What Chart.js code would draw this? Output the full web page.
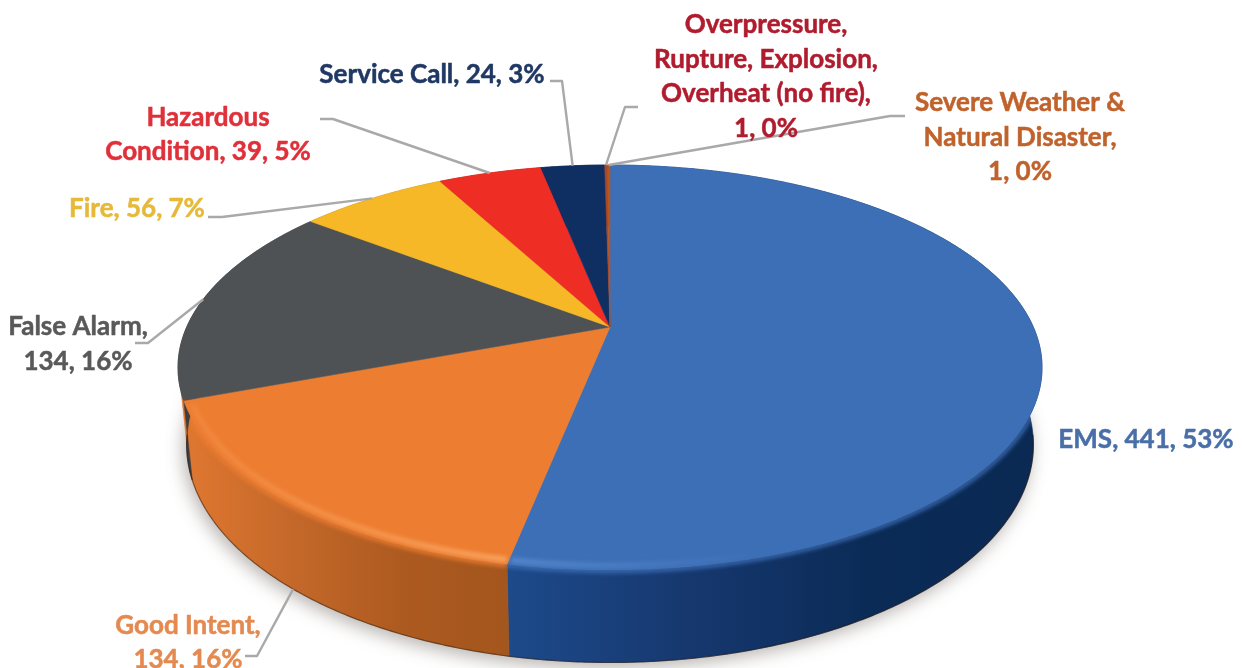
<!DOCTYPE html>
<html>
<head>
<meta charset="utf-8">
<style>
  html, body { margin: 0; padding: 0; background: #fff; }
  canvas { display: block; }
</style>
<script src="https://cdn.jsdelivr.net/npm/chart.js@4/dist/chart.umd.min.js"></script>
</head>
<body>
<canvas id="chart" width="1242" height="668"></canvas>
<script>
const categories = ['EMS', 'Good Intent', 'False Alarm', 'Fire', 'Hazardous Condition', 'Service Call', 'Overpressure, Rupture, Explosion, Overheat (no fire)', 'Severe Weather & Natural Disaster'];
const incidents = [441, 134, 134, 56, 39, 24, 1, 1];
const percents = [53, 16, 16, 7, 5, 3, 0, 0];

const topColors = ['#3d6fb6', '#ed7d31', '#4f5255', '#f6b826', '#ee2d24', '#0f2f62', '#a5482c', '#b8561c'];
const sideStops = [
  ['#1d4a8a', '#16386f', '#0b2b57', '#0a2a54'],
  ['#df7730', '#c4682a', '#ad5a20', '#a3561d'],
  ['#3c3e40', '#3c3e40'],
  ['#b5881a', '#b5881a'],
  ['#a8201a', '#a8201a'],
  ['#0a2148', '#0a2148'],
  ['#801820', '#801820'],
  ['#803c14', '#803c14']
];
const labelColors = ['#4a6fa8', '#e48a50', '#595959', '#e6b93a', '#e0303a', '#1f3864', '#b01c2e', '#c0622c'];

// words per line, centre x, first baseline
const labelLines = [[4], [2, 2], [2, 2], [3], [1, 4], [4], [1, 2, 3, 2], [3, 2, 2]];
const labelX = [1146, 188, 78, 137, 208, 432, 766, 1020];
const labelY = [448, 634, 335, 217, 126, 83, 33, 111];
const lineGap = [0, 34, 35, 0, 34, 0, 34.6, 34.5];
// start of leader, elbow; the far end comes from the slice itself
const leaders = [null, [[245, 656], [257, 656]], [[135, 343], [148, 343]], [[208, 217], [222, 217]], [[320, 119], [333, 119]], [[550, 81], [562, 81]], [[638, 107], [625, 107]], [[905, 116], [890, 116]]];

// projection of the flat disc to the tilted one
const CX = 610, CY = 327, A = 423.3, B = 194.4, K = 0.2, DEPTH = 74, SHRINK = 0.98;

function project(a, r = 1) {
  const u = Math.sin(a) * r, v = Math.cos(a) * r, w = 1 + K * v;
  return { x: CX + A * u / w, y: CY - B * v / w, w };
}
function projectLow(a) {
  const u = Math.sin(a), v = Math.cos(a), w = 1 + K * v;
  return { x: CX + SHRINK * A * u / w, y: CY - B * v / w + DEPTH / w };
}
function sweep(s, e, fn) {
  const n = Math.max(2, Math.ceil((e - s) / 0.008));
  const pts = [];
  for (let i = 0; i <= n; i++) pts.push(fn(s + (e - s) * i / n));
  return pts;
}
function trace(ctx, pts) {
  pts.forEach(p => ctx.lineTo(p.x, p.y));
}

const disc3d = {
  id: 'disc3d',
  beforeDatasetDraw(chart) {
    const ctx = chart.ctx;
    const arcs = chart.getDatasetMeta(0).data.map(arc => ({
      s: arc.startAngle + Math.PI / 2,
      e: arc.endAngle + Math.PI / 2
    }));
    const front = arc => [Math.max(arc.s, Math.PI * 0.5), Math.min(arc.e, Math.PI * 1.5)];

    // soft shadow under the disc
    ctx.save();
    ctx.filter = 'blur(9px)';
    ctx.fillStyle = 'rgba(60,50,40,0.38)';
    ctx.beginPath();
    trace(ctx, sweep(0, Math.PI * 2, projectLow).map(p => ({ x: p.x - 3, y: p.y + 5 })));
    ctx.fill();
    ctx.restore();

    // sides, the orange one runs a little over the grey at the left corner
    arcs.forEach((arc, i) => {
      const g = i === 1 ? ctx.createLinearGradient(185, 0, 510, 0)
        : i === 0 ? ctx.createLinearGradient(510, 0, 1042, 0)
        : ctx.createLinearGradient(178, 0, 1042, 0);
      const stops = sideStops[i];
      stops.forEach((c, j) => g.addColorStop(j / (stops.length - 1), c));
      const end = i === 1 ? arc.e + 0.04 : arc.e;
      ctx.beginPath();
      trace(ctx, sweep(arc.s, end, project));
      trace(ctx, sweep(arc.s, end, projectLow).reverse());
      ctx.closePath();
      ctx.fillStyle = g;
      ctx.strokeStyle = g;
      ctx.lineWidth = 0.6;
      ctx.fill();
      ctx.stroke();
    });

    // dark line along the lower edge
    ctx.save();
    ctx.strokeStyle = 'rgba(40,18,5,0.5)';
    ctx.lineWidth = 1.2;
    ctx.beginPath();
    trace(ctx, sweep(Math.PI * 0.55, Math.PI * 1.45, projectLow));
    ctx.stroke();
    ctx.restore();

    // soft step from the side to the top, kept inside the side band
    ctx.save();
    ctx.beginPath();
    trace(ctx, sweep(Math.PI * 0.4, Math.PI * 1.6, project));
    trace(ctx, sweep(Math.PI * 0.4, Math.PI * 1.6, projectLow).reverse());
    ctx.closePath();
    ctx.clip();
    ctx.filter = 'blur(2px)';
    arcs.forEach((arc, i) => {
      const [s, e] = front(arc);
      if (e <= s) return;
      ctx.strokeStyle = topColors[i];
      ctx.lineWidth = 4;
      ctx.beginPath();
      trace(ctx, sweep(s, e, a => project(a, 1.003)));
      ctx.stroke();
    });
    ctx.restore();

    // top face
    arcs.forEach((arc, i) => {
      ctx.beginPath();
      ctx.moveTo(CX, CY);
      trace(ctx, sweep(arc.s, arc.e, project));
      ctx.closePath();
      ctx.fillStyle = topColors[i];
      ctx.strokeStyle = topColors[i];
      ctx.lineWidth = 0.5;
      ctx.fill();
      ctx.stroke();
    });

    // bevel highlight on the front edge
    ctx.save();
    ctx.filter = 'blur(2.2px)';
    ctx.lineWidth = 5;
    const hiBlue = ctx.createLinearGradient(510, 0, 760, 0);
    hiBlue.addColorStop(0, 'rgba(96,146,216,0.75)');
    hiBlue.addColorStop(1, 'rgba(96,146,216,0)');
    ctx.strokeStyle = hiBlue;
    ctx.beginPath();
    trace(ctx, sweep(arcs[0].e - 0.9, arcs[0].e - 0.004, a => project(a, 0.985)));
    ctx.stroke();
    const hiOrange = ctx.createLinearGradient(185, 0, 510, 0);
    hiOrange.addColorStop(0, 'rgba(250,160,90,0.3)');
    hiOrange.addColorStop(0.5, 'rgba(250,165,95,0.6)');
    hiOrange.addColorStop(1, 'rgba(252,176,110,0.85)');
    ctx.strokeStyle = hiOrange;
    ctx.beginPath();
    trace(ctx, sweep(arcs[1].s + 0.004, arcs[1].e - 0.02, a => project(a, 0.985)));
    ctx.stroke();
    ctx.restore();

    // leader lines
    ctx.strokeStyle = '#a9a9a9';
    ctx.lineWidth = 2.4;
    ctx.lineJoin = 'round';
    arcs.forEach((arc, i) => {
      if (!leaders[i]) return;
      const mid = (arc.s + arc.e) / 2;
      const end = i === 1 ? projectLow(mid) : project(mid);
      ctx.beginPath();
      ctx.moveTo(leaders[i][0][0], leaders[i][0][1]);
      ctx.lineTo(leaders[i][1][0], leaders[i][1][1]);
      ctx.lineTo(end.x, end.y);
      ctx.stroke();
    });

    // data labels
    ctx.font = 'bold 26px Lato';
    ctx.textAlign = 'center';
    ctx.textBaseline = 'alphabetic';
    ctx.lineWidth = 0.5;
    categories.forEach((name, i) => {
      const words = `${name}, ${incidents[i]}, ${percents[i]}%`.split(' ');
      let at = 0;
      labelLines[i].forEach((count, row) => {
        const line = words.slice(at, at + count).join(' ');
        ctx.fillStyle = labelColors[i];
        ctx.strokeStyle = labelColors[i];
        ctx.fillText(line, labelX[i], labelY[i] + row * lineGap[i]);
        ctx.strokeText(line, labelX[i], labelY[i] + row * lineGap[i]);
        at += count;
      });
    });

    return false;
  }
};

new Chart(document.getElementById('chart'), {
  type: 'pie',
  data: {
    labels: categories,
    datasets: [{ data: incidents, backgroundColor: topColors }]
  },
  options: {
    responsive: false,
    animation: false,
    plugins: { legend: { display: false }, tooltip: { enabled: false } }
  },
  plugins: [disc3d]
});
</script>
</body>
</html>
